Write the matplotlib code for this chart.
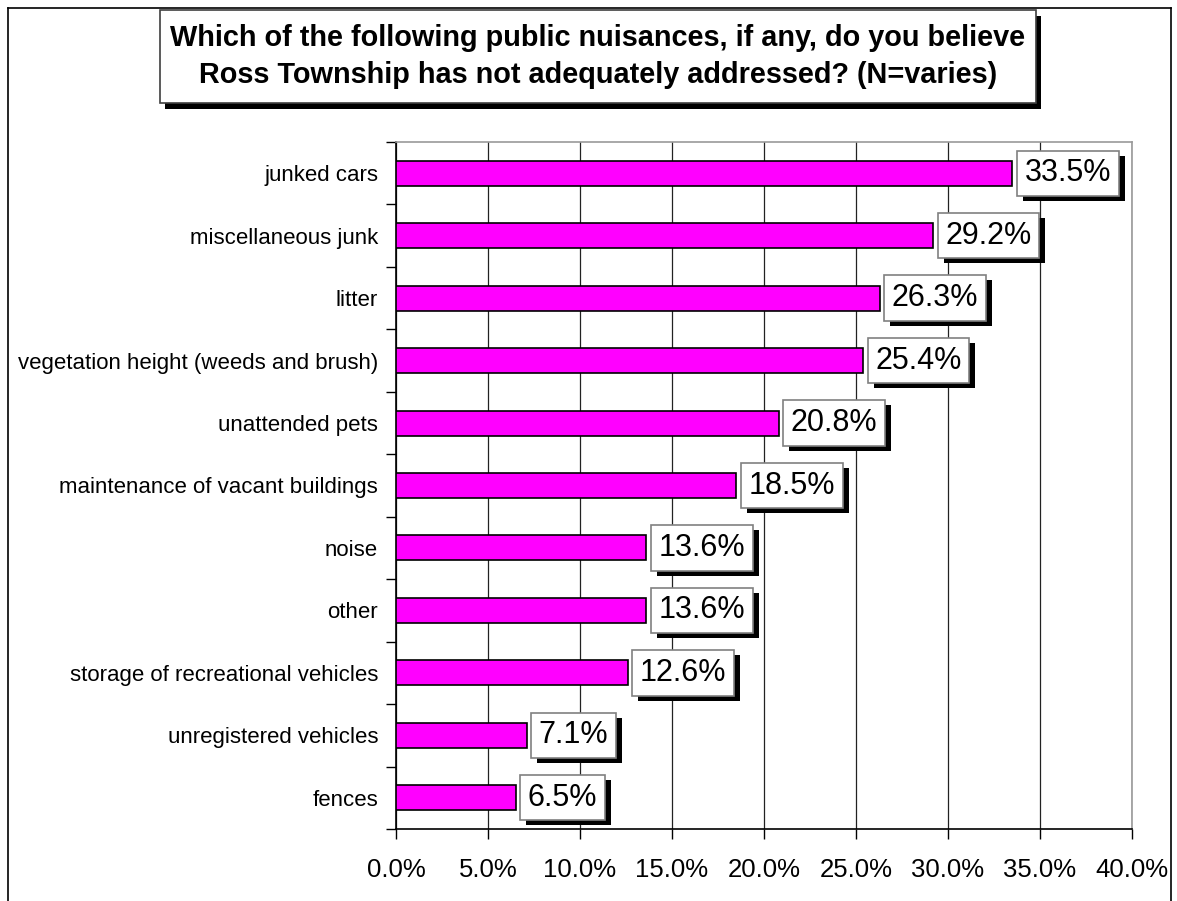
import matplotlib
matplotlib.use("Agg")
import matplotlib.pyplot as plt
import numpy as np
from matplotlib.lines import Line2D
from matplotlib.patches import Rectangle
import matplotlib.patheffects as pe

plt.rcParams['font.family'] = ['Liberation Sans', 'DejaVu Sans']

categories = ["junked cars", "miscellaneous junk", "litter",
              "vegetation height (weeds and brush)", "unattended pets",
              "maintenance of vacant buildings", "noise", "other",
              "storage of recreational vehicles", "unregistered vehicles", "fences"]
values = [33.5, 29.2, 26.3, 25.4, 20.8, 18.5, 13.6, 13.6, 12.6, 7.1, 6.5]
xticks = [0, 5, 10, 15, 20, 25, 30, 35, 40]
title = "Which of the following public nuisances, if any, do you believe\nRoss Township has not adequately addressed? (N=varies)"

W, H = 1177, 901
fig = plt.figure(figsize=(W / 100, H / 100), dpi=100)
ax = fig.add_axes([396 / W, 1 - 829 / H, (1132 - 396) / W, (829 - 142) / H])

n = len(categories)
y = np.arange(n)
ax.barh(y, values, height=0.4, color="#FF00FF", edgecolor="black", linewidth=1.2, zorder=3)
ax.set_ylim(n - 0.5, -0.5)
ax.set_xlim(0, 40)

px = 72 / 100.0  # points per pixel

ax.set_xticks(xticks)
ax.set_xticklabels([f"{v:.1f}%" for v in xticks], fontsize=18.5)
ax.tick_params(axis='x', length=7, width=1, pad=14, direction='out')
ax.set_yticks(y)
ax.set_yticklabels(categories, fontsize=16)
ax.tick_params(axis='y', which='major', length=0, pad=18 * px)
ax.set_yticks(np.arange(n + 1) - 0.5, minor=True)
ax.tick_params(axis='y', which='minor', length=7, width=1, direction='out')

ax.grid(axis='x', color='#222222', linewidth=0.9, zorder=0)
for s in ['top', 'right']:
    ax.spines[s].set_color('#999999')
    ax.spines[s].set_linewidth(1.2)
for s in ['left', 'bottom']:
    ax.spines[s].set_color('black')
    ax.spines[s].set_linewidth(1.2)

shadow = [pe.SimplePatchShadow(offset=(6 * px, -5 * px), shadow_rgbFace='black', alpha=1.0), pe.Normal()]
for yi, v in zip(y, values):
    lab = f"{v:.1f}%"
    t = ax.annotate(lab, xy=(v, yi), xytext=(12 * px, 0), textcoords='offset points',
                    ha='left', va='center', fontsize=22, color='black',
                    bbox=dict(boxstyle='square,pad=0.25', facecolor='white', edgecolor='#808080', linewidth=1.2),
                    zorder=5, annotation_clip=False)
    t.get_bbox_patch().set_path_effects(shadow)

# title box with shadow
bx0, bx1, by0, by1 = 160, 1036, 10, 103
fig.add_artist(Rectangle(((bx0 + 5) / W, 1 - (by1 + 6) / H), (bx1 - bx0) / W, (by1 - by0) / H,
                         transform=fig.transFigure, facecolor='black', edgecolor='black', lw=0))
fig.add_artist(Rectangle((bx0 / W, 1 - by1 / H), (bx1 - bx0) / W, (by1 - by0) / H,
                         transform=fig.transFigure, facecolor='white', edgecolor='#404040', lw=1.2))
fig.text(598 / W, 1 - 56.5 / H, title, ha='center', va='center', fontsize=20.8, fontweight='bold',
         color='black', linespacing=1.38)

# outer frame
fl, fr, ft = 8 / W, 1171 / W, 1 - 8 / H
fig.add_artist(Line2D([fl, fl], [0, ft], transform=fig.transFigure, color='black', lw=1.2))
fig.add_artist(Line2D([fl, fr], [ft, ft], transform=fig.transFigure, color='black', lw=1.2))
fig.add_artist(Line2D([fr, fr], [0, ft], transform=fig.transFigure, color='black', lw=1.2))

fig.savefig("out.png", dpi=100)
